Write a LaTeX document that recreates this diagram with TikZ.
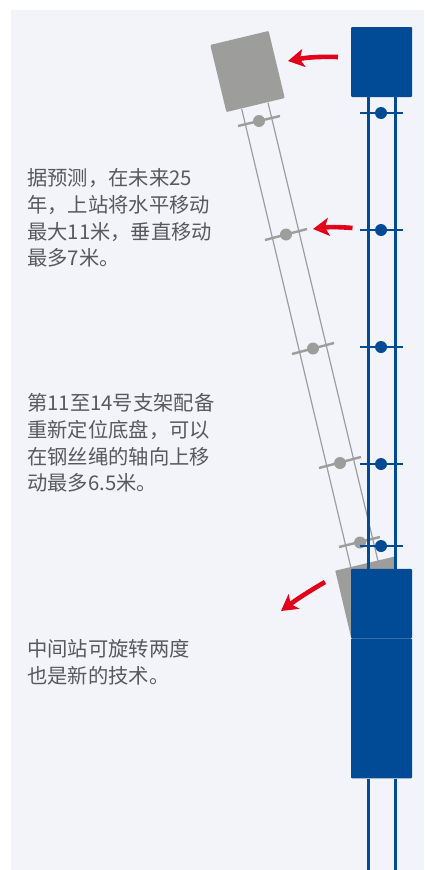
\documentclass[tikz,border=0pt]{standalone}
\usepackage{fontspec}
\usepackage{tikz}
\usetikzlibrary{arrows.meta,positioning}
\newfontfamily\cjkfont{Noto Sans CJK SC}
\definecolor{panelbg}{HTML}{F2F4FA}
\definecolor{cablewayblue}{HTML}{004A96}
\definecolor{towergray}{HTML}{9D9D9C}
\definecolor{arrowred}{HTML}{E3001B}
\definecolor{textgray}{HTML}{58595B}

\begin{document}
\begin{tikzpicture}[x=1pt,y=-1pt,
  blue box/.style={rectangle,fill=cablewayblue,rounded corners=1pt,minimum width=61pt,inner sep=0pt},
  gray box/.style={rectangle,fill=towergray,rounded corners=1pt,minimum width=60pt,minimum height=69pt,inner sep=0pt,rotate=13.5},
  blue dot/.style={circle,fill=cablewayblue,minimum size=12pt,inner sep=0pt},
  gray dot/.style={circle,fill=towergray,minimum size=12pt,inner sep=0pt},
  blue line/.style={draw=cablewayblue,line width=3pt},
  blue bar/.style={draw=cablewayblue,line width=2.4pt},
  gray line/.style={draw=towergray,line width=1.2pt},
  gray bar/.style={draw=towergray,line width=2.4pt},
  red arrow/.style={draw=arrowred,line width=4.6pt,-{Stealth[length=16pt,width=18pt,inset=4pt]}},
  note/.style={anchor=north west,inner sep=0pt,align=left,text=textgray,font=\cjkfont\fontsize{20.3}{26.7}\selectfont}]

  \useasboundingbox (0,0) rectangle (424,870);
  \fill[white] (0,0) rectangle (424,870);
  \fill[panelbg] (11,10) rectangle (424,870);

  % swung position
  \fill[towergray] (335.3,570.7) -- (394,556.7) -- (394,572) -- (351,637) -- cycle;
  \node[gray box] (upper gray) at (247.5,71.5) {};
  \coordinate (gl top) at (241.7,109);
  \coordinate (gl bot) at (351,568);
  \coordinate (gr top) at (268,102.7);
  \coordinate (gr bot) at (378,561);
  \path[gray line]
    (gl top) edge (gl bot)
    (gr top) edge (gr bot);

  \node[gray dot] (g1) at (259,121) {};
  \node[gray dot] (g2) at (286,234.5) {};
  \node[gray dot] (g3) at (313,348.5) {};
  \node[gray dot] (g4) at (340,463) {};
  \node[gray dot] (g5) at (360,542.5) {};
  \coordinate (g1l) at (238,126);
  \coordinate (g1r) at (280,116);
  \coordinate (g2l) at (265,240);
  \coordinate (g2r) at (307,229);
  \coordinate (g3l) at (292,354);
  \coordinate (g3r) at (334,343);
  \coordinate (g4l) at (319,468);
  \coordinate (g4r) at (361,457);
  \coordinate (g5l) at (339,547);
  \coordinate (g5r) at (380,537);
  \path[gray bar]
    (g1l) edge (g1r)
    (g2l) edge (g2r)
    (g3l) edge (g3r)
    (g4l) edge (g4r)
    (g5l) edge (g5r);

  % present position
  \node[blue box,minimum height=70pt] (upper) at (381.5,62) {};
  \node[blue box,minimum height=69.5pt] (middle) at (381.5,603.5) {};
  \node[blue box,minimum height=140pt] (lower) at (381.5,708.3) {};
  \coordinate (ll end) at (368,870);
  \coordinate (rl end) at (395,870);
  \path[blue line]
    (upper.south -| ll end) edge (middle.north -| ll end)
    (upper.south -| rl end) edge (middle.north -| rl end)
    (lower.south -| ll end) edge (ll end)
    (lower.south -| rl end) edge (rl end);

  \node[blue dot] (b1) at (381,113) {};
  \node[blue dot] (b2) at (381,230) {};
  \node[blue dot] (b3) at (381,347) {};
  \node[blue dot] (b4) at (381,464) {};
  \node[blue dot] (b5) at (381,546) {};
  \coordinate (b1l) at (360,113);
  \coordinate (b1r) at (403,113);
  \coordinate (b2l) at (360,230);
  \coordinate (b2r) at (403,230);
  \coordinate (b3l) at (360,347);
  \coordinate (b3r) at (403,347);
  \coordinate (b4l) at (360,464);
  \coordinate (b4r) at (403,464);
  \coordinate (b5l) at (360,546);
  \coordinate (b5r) at (403,546);
  \path[blue bar]
    (b1l) edge (b1r)
    (b2l) edge (b2r)
    (b3l) edge (b3r)
    (b4l) edge (b4r)
    (b5l) edge (b5r);

  % movement
  \coordinate (a1 tail) at (338,57);
  \coordinate (a1 tip) at (288,61);
  \coordinate (a2 tail) at (352.5,228);
  \coordinate (a2 tip) at (313,229);
  \coordinate (a3 tail) at (325,582);
  \coordinate (a3 tip) at (281,611);
  \path
    (a1 tail) edge [red arrow,bend right=6] (a1 tip)
    (a2 tail) edge [red arrow,bend right=6] (a2 tip)
    (a3 tail) edge [red arrow,bend right=3] (a3 tip);

  \node[note] (note1) at (27,168.5) {据预测，在未来25\\年，上站将水平移动\\最大11米，垂直移动\\最多7米。};
  \node[note] (note2) at (27,393.5) {第11至14号支架配备\\重新定位底盘，可以\\在钢丝绳的轴向上移\\动最多6.5米。};
  \node[note] (note3) at (27,639.5) {中间站可旋转两度\\也是新的技术。};

\end{tikzpicture}
\end{document}
